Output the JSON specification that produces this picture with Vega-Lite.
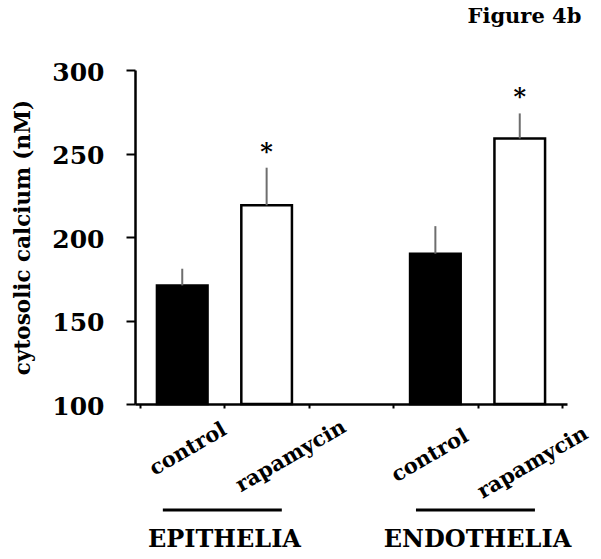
{
  "$schema": "https://vega.github.io/schema/vega-lite/v6.json",
  "width": 432,
  "height": 334,
  "autosize": "none",
  "padding": {"left": 135, "top": 70, "right": 34, "bottom": 155},
  "background": "white",
  "title": {"text": "Figure 4b", "anchor": "end", "font": "DejaVu Serif", "fontSize": 21, "fontWeight": "bold", "color": "black", "dx": -10, "offset": 16, "baseline": "alphabetic"},
  "config": {"view": {"stroke": null}, "font": "DejaVu Serif"},
  "data": {"values": [
    {"key": "EPI|control", "group": "EPITHELIA", "treatment": "control", "value": 171, "err": 181, "star": false},
    {"key": "EPI|rapamycin", "group": "EPITHELIA", "treatment": "rapamycin", "value": 219, "err": 241.5, "star": true},
    {"key": "ENDO|control", "group": "ENDOTHELIA", "treatment": "control", "value": 190, "err": 206.5, "star": false},
    {"key": "ENDO|rapamycin", "group": "ENDOTHELIA", "treatment": "rapamycin", "value": 259, "err": 274, "star": true}
  ]},
  "layer": [
    {
      "mark": {"type": "bar", "width": {"band": 0.6}, "stroke": "black", "strokeWidth": 2.5},
      "encoding": {
        "x": {"field": "key", "type": "nominal",
          "scale": {"domain": ["EPI|control", "EPI|rapamycin", "gap", "ENDO|control", "ENDO|rapamycin"], "paddingInner": 0, "paddingOuter": 0.06},
          "axis": {"title": null, "labels": false, "domainColor": "black", "domainWidth": 2.5, "tickBand": "extent", "tickSize": 4, "tickWidth": 2, "tickColor": "black"}},
        "y": {"field": "value", "type": "quantitative",
          "scale": {"domain": [100, 300], "nice": false, "zero": false},
          "axis": {"title": "cytosolic calcium (nM)", "values": [100, 150, 200, 250, 300], "grid": false,
            "domainColor": "black", "domainWidth": 2.5, "tickSize": 9, "tickWidth": 2, "tickColor": "black",
            "labelFont": "DejaVu Serif", "labelFontWeight": "bold", "labelFontSize": 25, "labelColor": "black", "labelPadding": 22, "labelOffset": 2,
            "titleFont": "DejaVu Serif", "titleFontWeight": "bold", "titleFontSize": 21.5, "titleColor": "black", "titlePadding": 17}},
        "y2": {"datum": 100},
        "fill": {"field": "treatment", "type": "nominal", "scale": {"domain": ["control", "rapamycin"], "range": ["black", "white"]}, "legend": null}
      }
    },
    {
      "mark": {"type": "rule", "color": "#6e6e6e", "strokeWidth": 2},
      "encoding": {
        "x": {"field": "key", "type": "nominal"},
        "y": {"field": "value", "type": "quantitative"},
        "y2": {"field": "err"}
      }
    },
    {
      "transform": [{"filter": "datum.star"}],
      "mark": {"type": "text", "text": "*", "fontSize": 24, "fontWeight": "bold", "color": "black", "baseline": "alphabetic", "dy": -8},
      "encoding": {
        "x": {"field": "key", "type": "nominal"},
        "y": {"field": "err", "type": "quantitative"}
      }
    },
    {
      "transform": [{"filter": "datum.key == 'EPI|control'"}],
      "mark": {"type": "text", "angle": -30, "align": "left", "baseline": "alphabetic", "fontSize": 21, "fontWeight": "bold", "color": "black", "dx": -32},
      "encoding": {"x": {"field": "key", "type": "nominal"}, "y": {"datum": 66.5, "type": "quantitative"}, "text": {"field": "treatment"}}
    },
    {
      "transform": [{"filter": "datum.key == 'ENDO|control'"}],
      "mark": {"type": "text", "angle": -30, "align": "left", "baseline": "alphabetic", "fontSize": 21, "fontWeight": "bold", "color": "black", "dx": -45},
      "encoding": {"x": {"field": "key", "type": "nominal"}, "y": {"datum": 66.5, "type": "quantitative"}, "text": {"field": "treatment"}}
    },
    {
      "transform": [{"filter": "datum.key == 'EPI|rapamycin'"}],
      "mark": {"type": "text", "angle": -30, "align": "left", "baseline": "alphabetic", "fontSize": 21, "fontWeight": "bold", "color": "black", "dx": -30},
      "encoding": {"x": {"field": "key", "type": "nominal"}, "y": {"datum": 56, "type": "quantitative"}, "text": {"field": "treatment"}}
    },
    {
      "transform": [{"filter": "datum.key == 'ENDO|rapamycin'"}],
      "mark": {"type": "text", "angle": -30, "align": "left", "baseline": "alphabetic", "fontSize": 21, "fontWeight": "bold", "color": "black", "dx": -43},
      "encoding": {"x": {"field": "key", "type": "nominal"}, "y": {"datum": 56, "type": "quantitative"}, "text": {"field": "treatment"}}
    },
    {
      "data": {"values": [
        {"group": "EPITHELIA", "start": "EPI|control", "end": "EPI|rapamycin"},
        {"group": "ENDOTHELIA", "start": "ENDO|control", "end": "ENDO|rapamycin"}
      ]},
      "layer": [
        {
          "mark": {"type": "rule", "color": "black", "strokeWidth": 3},
          "encoding": {
            "x": {"field": "start", "type": "nominal", "bandPosition": 0.27},
            "x2": {"field": "end", "bandPosition": 0.68},
            "y": {"datum": 36.5, "type": "quantitative"}
          }
        },
        {
          "mark": {"type": "text", "fontSize": 24, "fontWeight": "bold", "color": "black", "baseline": "alphabetic", "align": "center"},
          "encoding": {
            "x": {"field": "start", "type": "nominal", "bandPosition": 1},
            "y": {"datum": 14.5, "type": "quantitative"},
            "text": {"field": "group"}
          }
        }
      ]
    }
  ]
}
